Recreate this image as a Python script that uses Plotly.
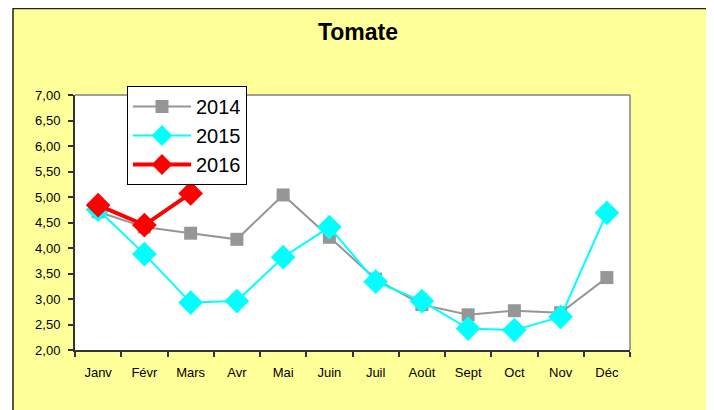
import plotly.graph_objects as go

months = ["Janv", "Févr", "Mars", "Avr", "Mai", "Juin", "Juil", "Août", "Sept", "Oct", "Nov", "Déc"]
y2014 = [4.71, 4.41, 4.29, 4.17, 5.04, 4.21, 3.39, 2.89, 2.69, 2.77, 2.73, 3.42]
y2015 = [4.75, 3.88, 2.93, 2.96, 3.82, 4.41, 3.34, 2.96, 2.42, 2.39, 2.65, 4.69]
y2016 = [4.84, 4.45, 5.07]
title_text = "Tomate"

# the page body has an 8px margin; figure spans page 8..714 x 8..410
OFF = 8
W, H = 714 - OFF, 410 - OFF
L, R, T, B = 75, 630, 95, 350          # plot area in page coordinates
pw, ph = R - L, B - T

def px(x):
    return (x - L) / pw

def py(y):
    return (B - y) / ph

fig = go.Figure()
fig.add_trace(go.Scatter(x=months, y=y2014, name="2014", mode="lines+markers",
                         line=dict(color="#969696", width=2),
                         marker=dict(symbol="square", size=13, color="#969696")))
fig.add_trace(go.Scatter(x=months, y=y2015, name="2015", mode="lines+markers",
                         line=dict(color="#00FFFF", width=2),
                         marker=dict(symbol="diamond", size=19, color="#00FFFF")))
fig.add_trace(go.Scatter(x=months[:len(y2016)], y=y2016, name="2016", mode="lines+markers",
                         line=dict(color="#FF0000", width=4),
                         marker=dict(symbol="diamond", size=19, color="#FF0000")))

shapes = [
    # white strips outside the chart frame
    dict(type="rect", xref="paper", yref="paper", x0=px(0), x1=px(12.3), y0=py(430), y1=py(0),
         fillcolor="#FFFFFF", line=dict(width=0), layer="above"),
    dict(type="rect", xref="paper", yref="paper", x0=px(711.7), x1=px(720), y0=py(430), y1=py(0),
         fillcolor="#FFFFFF", line=dict(width=0), layer="above"),
    # outer chart border
    dict(type="rect", xref="paper", yref="paper", x0=px(13), x1=px(711), y0=py(430), y1=py(8.5),
         line=dict(color="#222222", width=1.5), layer="above"),
    # top and right plot borders (gray)
    dict(type="line", xref="paper", yref="paper", x0=0, x1=1, y0=1, y1=1,
         line=dict(color="#808080", width=1.5), layer="above"),
    dict(type="line", xref="paper", yref="paper", x0=1, x1=1, y0=0, y1=1,
         line=dict(color="#808080", width=1.5), layer="above"),
]

fig.update_layout(
    width=W, height=H,
    margin=dict(l=L - OFF, r=714 - R, t=T - OFF, b=410 - B, pad=0),
    paper_bgcolor="#FFFF99",
    plot_bgcolor="#FFFFFF",
    separators=", ",
    font=dict(family="Liberation Sans, Arial, sans-serif", color="#000000", size=13),
    title=dict(text="<b>" + title_text + "</b>", x=(358 - OFF) / W, xanchor="center",
               y=1 - (32 - OFF) / H, yanchor="middle",
               font=dict(size=23, family="Liberation Sans, Arial, sans-serif", color="#000000")),
    showlegend=True,
    legend=dict(x=px(127), y=py(86), xanchor="left", yanchor="top",
                bgcolor="#FFFFFF", bordercolor="#000000", borderwidth=1,
                font=dict(size=20, color="#000000"),
                tracegroupgap=0, itemwidth=58),
    shapes=shapes,
    xaxis=dict(type="category", range=[-0.5, 11.5], tickson="boundaries",
               ticks="outside", ticklen=5, tickcolor="#333333", tickwidth=1.5,
               showline=True, linecolor="#333333", linewidth=2,
               showgrid=False, zeroline=False, fixedrange=True,
               ticklabelstandoff=9, tickfont=dict(size=13)),
    yaxis=dict(range=[2, 7], dtick=0.5, tick0=2, tickformat=".2f",
               ticks="outside", ticklen=5, tickcolor="#333333", tickwidth=1.5,
               showline=True, linecolor="#333333", linewidth=2,
               showgrid=False, zeroline=False, fixedrange=True,
               ticklabelstandoff=5, tickfont=dict(size=13)),
)

fig.write_html("out.html")
